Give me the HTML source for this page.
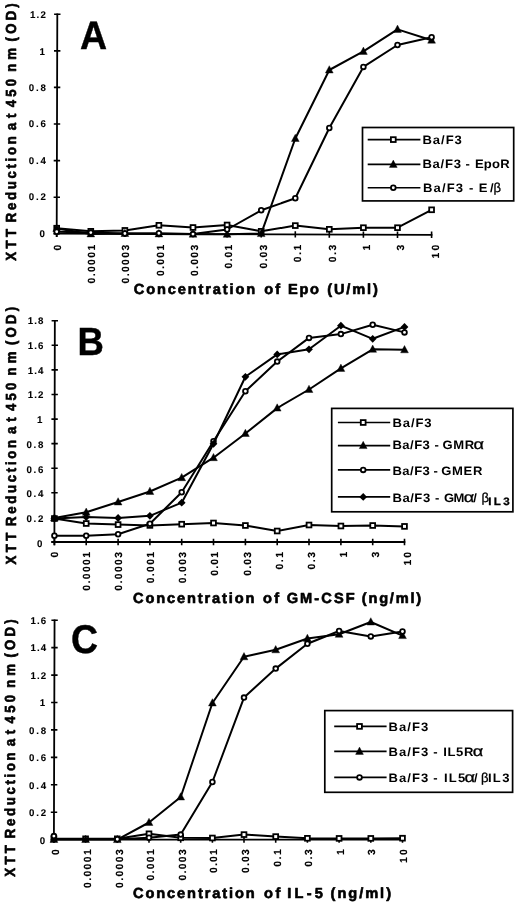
<!DOCTYPE html>
<html lang="en">
<head>
<meta charset="utf-8">
<title>XTT reduction dose response curves</title>
<style>
html,body{margin:0;padding:0;background:#fff;}
body{width:520px;height:906px;overflow:hidden;}
svg{display:block;}
text{font-family:"Liberation Sans", sans-serif;font-weight:bold;fill:#000;text-rendering:geometricPrecision;}
.t{font-size:9.7px;stroke:#000;stroke-width:0.1px;}
.tx{font-size:10.3px;stroke:#000;stroke-width:0.15px;}
.ti{font-size:14.6px;stroke:#000;stroke-width:0.65px;stroke-linejoin:round;}
.lg{font-size:12.2px;}
.gk{font-size:14.5px;font-weight:normal;stroke:#000;stroke-width:0.3px;}
.gb{font-size:13px;font-weight:normal;stroke:#000;stroke-width:0.3px;}
.sub{font-size:10.8px;stroke:#000;stroke-width:0.3px;}
.L{font-size:37.5px;stroke:#000;stroke-width:0.4px;}
</style>
</head>
<body>
<svg width="520" height="906" viewBox="0 0 520 906">
<defs><filter id="soft" x="0" y="0" width="520" height="906" filterUnits="userSpaceOnUse"><feGaussianBlur stdDeviation="0.38"/></filter></defs>
<rect width="520" height="906" fill="#fff"/>
<g filter="url(#soft)">
<g>
<path d="M57.31 13.6 L56.69 236.9 M53.7 233.7 L432.4 234.8" stroke="#000" stroke-width="1.8" fill="none"/>
<path d="M54.1 14.3 H60.5 M54.0 50.9 H60.4 M53.9 87.4 H60.3 M53.8 124.0 H60.2 M53.7 160.6 H60.1 M53.6 197.2 H60.0 M53.5 233.7 H59.9 M56.7 230.5 V236.9 M90.8 230.6 V237.0 M124.9 230.7 V237.1 M158.9 230.8 V237.2 M193.0 230.9 V237.3 M227.1 231.0 V237.4 M261.2 231.1 V237.5 M295.3 231.2 V237.6 M329.3 231.3 V237.7 M363.4 231.4 V237.8 M397.5 231.5 V237.9 M431.6 231.6 V238.0 " stroke="#000" stroke-width="1.6" fill="none"/>
<text x="30.0" y="18.2" textLength="15.8" lengthAdjust="spacing" class="t">1.2</text>
<text x="39.4" y="54.6" class="t">1</text>
<text x="28.7" y="91.0" textLength="17.1" lengthAdjust="spacing" class="t">0.8</text>
<text x="28.7" y="127.4" textLength="17.1" lengthAdjust="spacing" class="t">0.6</text>
<text x="28.7" y="163.8" textLength="17.1" lengthAdjust="spacing" class="t">0.4</text>
<text x="28.7" y="200.2" textLength="17.1" lengthAdjust="spacing" class="t">0.2</text>
<text x="39.4" y="236.6" class="t">0</text>
<text transform="translate(60.5 250.4) rotate(-90)" class="tx">0</text>
<text transform="translate(94.9 283.5) rotate(-90)" textLength="38.7" lengthAdjust="spacing" class="tx">0.0001</text>
<text transform="translate(129.3 283.5) rotate(-90)" textLength="38.7" lengthAdjust="spacing" class="tx">0.0003</text>
<text transform="translate(163.6 276.1) rotate(-90)" textLength="31.3" lengthAdjust="spacing" class="tx">0.001</text>
<text transform="translate(198.0 276.1) rotate(-90)" textLength="31.3" lengthAdjust="spacing" class="tx">0.003</text>
<text transform="translate(232.4 268.5) rotate(-90)" textLength="23.7" lengthAdjust="spacing" class="tx">0.01</text>
<text transform="translate(266.8 268.5) rotate(-90)" textLength="23.7" lengthAdjust="spacing" class="tx">0.03</text>
<text transform="translate(301.2 262.3) rotate(-90)" textLength="17.5" lengthAdjust="spacing" class="tx">0.1</text>
<text transform="translate(335.5 262.3) rotate(-90)" textLength="17.5" lengthAdjust="spacing" class="tx">0.3</text>
<text transform="translate(369.9 250.4) rotate(-90)" class="tx">1</text>
<text transform="translate(404.3 250.4) rotate(-90)" class="tx">3</text>
<text transform="translate(438.7 258.4) rotate(-90)" textLength="13.6" lengthAdjust="spacing" class="tx">10</text>
<text transform="translate(15.9 260.7) rotate(-90) scale(0.9 1)" textLength="35.2" lengthAdjust="spacing" class="ti">XTT</text>
<text transform="translate(15.9 222.2) rotate(-90) scale(0.9 1)" textLength="95.5" lengthAdjust="spacing" class="ti">Reduction</text>
<text transform="translate(15.9 130.2) rotate(-90) scale(0.9 1)" textLength="18.3" lengthAdjust="spacing" class="ti">at</text>
<text transform="translate(15.9 107.3) rotate(-90) scale(0.9 1)" textLength="31.6" lengthAdjust="spacing" class="ti">450</text>
<text transform="translate(15.9 71.7) rotate(-90) scale(0.9 1)" textLength="26.4" lengthAdjust="spacing" class="ti">nm</text>
<text transform="translate(15.9 41.4) rotate(-90) scale(0.9 1)" textLength="42.4" lengthAdjust="spacing" class="ti">(OD)</text>
<text x="133.8" y="293.5" textLength="121.3" lengthAdjust="spacing" class="ti">Concentration</text>
<text x="264.3" y="293.5" textLength="15.8" lengthAdjust="spacing" class="ti">of</text>
<text x="288.1" y="293.5" textLength="30.8" lengthAdjust="spacing" class="ti">Epo</text>
<text x="327.3" y="293.5" textLength="50.5" lengthAdjust="spacing" class="ti">(U/ml)</text>
<text transform="translate(80.0 48.7) scale(1 1.055)" class="L">A</text>
<polyline points="56.7,228.2 90.8,231.3 124.9,230.4 158.9,225.3 193.0,227.5 227.1,225.0 261.2,231.3 295.3,225.6 329.3,229.3 363.4,227.7 397.5,227.7 431.6,209.8" fill="none" stroke="#000" stroke-width="2.0" stroke-linejoin="round"/>
<rect x="54.3" y="225.8" width="4.8" height="4.8" fill="#fff" stroke="#000" stroke-width="1.8"/>
<rect x="88.4" y="228.9" width="4.8" height="4.8" fill="#fff" stroke="#000" stroke-width="1.8"/>
<rect x="122.5" y="228.0" width="4.8" height="4.8" fill="#fff" stroke="#000" stroke-width="1.8"/>
<rect x="156.5" y="222.9" width="4.8" height="4.8" fill="#fff" stroke="#000" stroke-width="1.8"/>
<rect x="190.6" y="225.1" width="4.8" height="4.8" fill="#fff" stroke="#000" stroke-width="1.8"/>
<rect x="224.7" y="222.6" width="4.8" height="4.8" fill="#fff" stroke="#000" stroke-width="1.8"/>
<rect x="258.8" y="228.9" width="4.8" height="4.8" fill="#fff" stroke="#000" stroke-width="1.8"/>
<rect x="292.9" y="223.2" width="4.8" height="4.8" fill="#fff" stroke="#000" stroke-width="1.8"/>
<rect x="326.9" y="226.9" width="4.8" height="4.8" fill="#fff" stroke="#000" stroke-width="1.8"/>
<rect x="361.0" y="225.3" width="4.8" height="4.8" fill="#fff" stroke="#000" stroke-width="1.8"/>
<rect x="395.1" y="225.3" width="4.8" height="4.8" fill="#fff" stroke="#000" stroke-width="1.8"/>
<rect x="429.2" y="207.4" width="4.8" height="4.8" fill="#fff" stroke="#000" stroke-width="1.8"/>
<polyline points="56.7,228.5 90.8,233.9 124.9,233.5 158.9,233.9 193.0,234.2 227.1,234.3 261.2,233.6 295.3,138.5 329.3,70.0 363.4,51.4 397.5,29.4 431.6,40.2" fill="none" stroke="#000" stroke-width="2.0" stroke-linejoin="round"/>
<path d="M56.7 224.2 L60.6 231.5 L52.8 231.5 Z" fill="#000" stroke="#000" stroke-width="0.4" stroke-linejoin="round"/>
<path d="M90.8 229.6 L94.7 236.9 L86.9 236.9 Z" fill="#000" stroke="#000" stroke-width="0.4" stroke-linejoin="round"/>
<path d="M124.9 229.2 L128.8 236.5 L121.0 236.5 Z" fill="#000" stroke="#000" stroke-width="0.4" stroke-linejoin="round"/>
<path d="M158.9 229.6 L162.8 236.9 L155.0 236.9 Z" fill="#000" stroke="#000" stroke-width="0.4" stroke-linejoin="round"/>
<path d="M193.0 229.9 L196.9 237.2 L189.1 237.2 Z" fill="#000" stroke="#000" stroke-width="0.4" stroke-linejoin="round"/>
<path d="M227.1 230.0 L231.0 237.3 L223.2 237.3 Z" fill="#000" stroke="#000" stroke-width="0.4" stroke-linejoin="round"/>
<path d="M261.2 229.3 L265.1 236.6 L257.3 236.6 Z" fill="#000" stroke="#000" stroke-width="0.4" stroke-linejoin="round"/>
<path d="M295.3 134.2 L299.2 141.5 L291.4 141.5 Z" fill="#000" stroke="#000" stroke-width="0.4" stroke-linejoin="round"/>
<path d="M329.3 65.7 L333.2 73.0 L325.4 73.0 Z" fill="#000" stroke="#000" stroke-width="0.4" stroke-linejoin="round"/>
<path d="M363.4 47.1 L367.3 54.4 L359.5 54.4 Z" fill="#000" stroke="#000" stroke-width="0.4" stroke-linejoin="round"/>
<path d="M397.5 25.1 L401.4 32.4 L393.6 32.4 Z" fill="#000" stroke="#000" stroke-width="0.4" stroke-linejoin="round"/>
<path d="M431.6 35.9 L435.5 43.2 L427.7 43.2 Z" fill="#000" stroke="#000" stroke-width="0.4" stroke-linejoin="round"/>
<polyline points="56.7,231.7 90.8,232.6 124.9,233.5 158.9,233.2 193.0,234.1 227.1,229.5 261.2,210.3 295.3,198.3 329.3,128.0 363.4,66.9 397.5,45.0 431.6,37.3" fill="none" stroke="#000" stroke-width="2.0" stroke-linejoin="round"/>
<circle cx="56.7" cy="231.7" r="2.35" fill="#fff" stroke="#000" stroke-width="1.8"/>
<circle cx="90.8" cy="232.6" r="2.35" fill="#fff" stroke="#000" stroke-width="1.8"/>
<circle cx="124.9" cy="233.5" r="2.35" fill="#fff" stroke="#000" stroke-width="1.8"/>
<circle cx="158.9" cy="233.2" r="2.35" fill="#fff" stroke="#000" stroke-width="1.8"/>
<circle cx="193.0" cy="234.1" r="2.35" fill="#fff" stroke="#000" stroke-width="1.8"/>
<circle cx="227.1" cy="229.5" r="2.35" fill="#fff" stroke="#000" stroke-width="1.8"/>
<circle cx="261.2" cy="210.3" r="2.35" fill="#fff" stroke="#000" stroke-width="1.8"/>
<circle cx="295.3" cy="198.3" r="2.35" fill="#fff" stroke="#000" stroke-width="1.8"/>
<circle cx="329.3" cy="128.0" r="2.35" fill="#fff" stroke="#000" stroke-width="1.8"/>
<circle cx="363.4" cy="66.9" r="2.35" fill="#fff" stroke="#000" stroke-width="1.8"/>
<circle cx="397.5" cy="45.0" r="2.35" fill="#fff" stroke="#000" stroke-width="1.8"/>
<circle cx="431.6" cy="37.3" r="2.35" fill="#fff" stroke="#000" stroke-width="1.8"/>
<rect x="362.5" y="127.5" width="151.2" height="73.4" fill="#fff" stroke="#000" stroke-width="1.7"/>
<path d="M367.7 139.6 H420.4" stroke="#000" stroke-width="1.6"/>
<rect x="390.9" y="137.2" width="4.8" height="4.8" fill="#fff" stroke="#000" stroke-width="1.8"/>
<text transform="translate(422.4 143.8) scale(1.07 1)" textLength="36.9" lengthAdjust="spacing" class="lg">Ba/F3</text>
<path d="M367.7 164.4 H420.4" stroke="#000" stroke-width="1.6"/>
<path d="M393.3 160.1 L397.2 167.4 L389.4 167.4 Z" fill="#000" stroke="#000" stroke-width="0.4" stroke-linejoin="round"/>
<text transform="translate(422.4 168.4) scale(1.07 1)" textLength="36.1" lengthAdjust="spacing" class="lg">Ba/F3</text>
<text transform="translate(465.4 168.4) scale(1.07 1)" class="lg">-</text>
<text transform="translate(474.9 168.4) scale(1.07 1)" textLength="32.6" lengthAdjust="spacing" class="lg">EpoR</text>
<path d="M367.7 187.7 H420.4" stroke="#000" stroke-width="1.6"/>
<circle cx="393.3" cy="187.7" r="2.35" fill="#fff" stroke="#000" stroke-width="1.8"/>
<text transform="translate(423.0 191.6) scale(1.07 1)" textLength="37.5" lengthAdjust="spacing" class="lg">Ba/F3</text>
<text transform="translate(468.9 191.6) scale(1.07 1)" class="lg">-</text>
<text transform="translate(478.7 191.6) scale(1.07 1)" textLength="13.9" lengthAdjust="spacing" class="lg">E/</text>
<text x="493.4" y="191.6" class="gb">β</text>
</g>
<g>
<path d="M54.84 320.1 L54.39 545.2 M51.4 542.0 L405.3 542.0" stroke="#000" stroke-width="1.8" fill="none"/>
<path d="M51.6 320.8 H58.0 M51.6 345.3 H58.0 M51.5 369.9 H57.9 M51.5 394.5 H57.9 M51.4 419.1 H57.8 M51.4 443.6 H57.8 M51.3 468.2 H57.7 M51.3 492.8 H57.7 M51.2 517.4 H57.6 M51.2 542.0 H57.6 M54.4 538.8 V545.2 M86.2 538.8 V545.2 M118.1 538.8 V545.2 M149.9 538.8 V545.2 M181.7 538.8 V545.2 M213.5 538.8 V545.2 M245.4 538.8 V545.2 M277.2 538.8 V545.2 M309.0 538.8 V545.2 M340.9 538.8 V545.2 M372.7 538.8 V545.2 M404.5 538.8 V545.2 " stroke="#000" stroke-width="1.6" fill="none"/>
<text x="27.7" y="324.2" textLength="15.8" lengthAdjust="spacing" class="t">1.8</text>
<text x="27.7" y="348.9" textLength="15.8" lengthAdjust="spacing" class="t">1.6</text>
<text x="27.7" y="373.6" textLength="15.8" lengthAdjust="spacing" class="t">1.4</text>
<text x="27.7" y="398.4" textLength="15.8" lengthAdjust="spacing" class="t">1.2</text>
<text x="37.1" y="423.1" class="t">1</text>
<text x="26.4" y="447.8" textLength="17.1" lengthAdjust="spacing" class="t">0.8</text>
<text x="26.4" y="472.5" textLength="17.1" lengthAdjust="spacing" class="t">0.6</text>
<text x="26.4" y="497.2" textLength="17.1" lengthAdjust="spacing" class="t">0.4</text>
<text x="26.4" y="522.0" textLength="17.1" lengthAdjust="spacing" class="t">0.2</text>
<text x="37.1" y="546.7" class="t">0</text>
<text transform="translate(58.0 557.6) rotate(-90)" class="tx">0</text>
<text transform="translate(90.1 590.7) rotate(-90)" textLength="38.7" lengthAdjust="spacing" class="tx">0.0001</text>
<text transform="translate(122.2 590.7) rotate(-90)" textLength="38.7" lengthAdjust="spacing" class="tx">0.0003</text>
<text transform="translate(154.2 583.3) rotate(-90)" textLength="31.3" lengthAdjust="spacing" class="tx">0.001</text>
<text transform="translate(186.3 583.3) rotate(-90)" textLength="31.3" lengthAdjust="spacing" class="tx">0.003</text>
<text transform="translate(218.4 575.7) rotate(-90)" textLength="23.7" lengthAdjust="spacing" class="tx">0.01</text>
<text transform="translate(250.5 575.7) rotate(-90)" textLength="23.7" lengthAdjust="spacing" class="tx">0.03</text>
<text transform="translate(282.6 569.5) rotate(-90)" textLength="17.5" lengthAdjust="spacing" class="tx">0.1</text>
<text transform="translate(314.6 569.5) rotate(-90)" textLength="17.5" lengthAdjust="spacing" class="tx">0.3</text>
<text transform="translate(346.7 557.6) rotate(-90)" class="tx">1</text>
<text transform="translate(378.8 557.6) rotate(-90)" class="tx">3</text>
<text transform="translate(410.9 565.6) rotate(-90)" textLength="13.6" lengthAdjust="spacing" class="tx">10</text>
<text transform="translate(15.7 564.4) rotate(-90) scale(0.9 1)" textLength="35.2" lengthAdjust="spacing" class="ti">XTT</text>
<text transform="translate(15.7 525.9) rotate(-90) scale(0.9 1)" textLength="95.5" lengthAdjust="spacing" class="ti">Reduction</text>
<text transform="translate(15.7 433.9) rotate(-90) scale(0.9 1)" textLength="18.3" lengthAdjust="spacing" class="ti">at</text>
<text transform="translate(15.7 411.0) rotate(-90) scale(0.9 1)" textLength="31.6" lengthAdjust="spacing" class="ti">450</text>
<text transform="translate(15.7 375.4) rotate(-90) scale(0.9 1)" textLength="26.4" lengthAdjust="spacing" class="ti">nm</text>
<text transform="translate(15.7 345.1) rotate(-90) scale(0.9 1)" textLength="42.4" lengthAdjust="spacing" class="ti">(OD)</text>
<text x="133.1" y="602.9" textLength="121.3" lengthAdjust="spacing" class="ti">Concentration</text>
<text x="263.1" y="602.9" textLength="16.1" lengthAdjust="spacing" class="ti">of</text>
<text x="286.7" y="602.9" textLength="67.9" lengthAdjust="spacing" class="ti">GM-CSF</text>
<text x="361.8" y="602.9" textLength="59.3" lengthAdjust="spacing" class="ti">(ng/ml)</text>
<text transform="translate(77.4 355.1) scale(0.975 1.05)" class="L">B</text>
<polyline points="54.4,518.5 86.2,523.5 118.1,524.6 149.9,525.4 181.7,524.2 213.5,523.0 245.4,525.5 277.2,531.0 309.0,525.0 340.9,526.0 372.7,525.5 404.5,526.4" fill="none" stroke="#000" stroke-width="2.0" stroke-linejoin="round"/>
<rect x="52.0" y="516.1" width="4.8" height="4.8" fill="#fff" stroke="#000" stroke-width="1.8"/>
<rect x="83.8" y="521.1" width="4.8" height="4.8" fill="#fff" stroke="#000" stroke-width="1.8"/>
<rect x="115.7" y="522.2" width="4.8" height="4.8" fill="#fff" stroke="#000" stroke-width="1.8"/>
<rect x="147.5" y="523.0" width="4.8" height="4.8" fill="#fff" stroke="#000" stroke-width="1.8"/>
<rect x="179.3" y="521.8" width="4.8" height="4.8" fill="#fff" stroke="#000" stroke-width="1.8"/>
<rect x="211.1" y="520.6" width="4.8" height="4.8" fill="#fff" stroke="#000" stroke-width="1.8"/>
<rect x="243.0" y="523.1" width="4.8" height="4.8" fill="#fff" stroke="#000" stroke-width="1.8"/>
<rect x="274.8" y="528.6" width="4.8" height="4.8" fill="#fff" stroke="#000" stroke-width="1.8"/>
<rect x="306.6" y="522.6" width="4.8" height="4.8" fill="#fff" stroke="#000" stroke-width="1.8"/>
<rect x="338.5" y="523.6" width="4.8" height="4.8" fill="#fff" stroke="#000" stroke-width="1.8"/>
<rect x="370.3" y="523.1" width="4.8" height="4.8" fill="#fff" stroke="#000" stroke-width="1.8"/>
<rect x="402.1" y="524.0" width="4.8" height="4.8" fill="#fff" stroke="#000" stroke-width="1.8"/>
<polyline points="54.4,518.0 86.2,512.3 118.1,502.0 149.9,491.5 181.7,477.7 213.5,457.7 245.4,433.5 277.2,408.1 309.0,389.5 340.9,368.4 372.7,349.3 404.5,349.8" fill="none" stroke="#000" stroke-width="2.0" stroke-linejoin="round"/>
<path d="M54.4 513.7 L58.3 521.0 L50.5 521.0 Z" fill="#000" stroke="#000" stroke-width="0.4" stroke-linejoin="round"/>
<path d="M86.2 508.0 L90.1 515.3 L82.3 515.3 Z" fill="#000" stroke="#000" stroke-width="0.4" stroke-linejoin="round"/>
<path d="M118.1 497.7 L122.0 505.0 L114.2 505.0 Z" fill="#000" stroke="#000" stroke-width="0.4" stroke-linejoin="round"/>
<path d="M149.9 487.2 L153.8 494.5 L146.0 494.5 Z" fill="#000" stroke="#000" stroke-width="0.4" stroke-linejoin="round"/>
<path d="M181.7 473.4 L185.6 480.7 L177.8 480.7 Z" fill="#000" stroke="#000" stroke-width="0.4" stroke-linejoin="round"/>
<path d="M213.5 453.4 L217.4 460.7 L209.6 460.7 Z" fill="#000" stroke="#000" stroke-width="0.4" stroke-linejoin="round"/>
<path d="M245.4 429.2 L249.3 436.5 L241.5 436.5 Z" fill="#000" stroke="#000" stroke-width="0.4" stroke-linejoin="round"/>
<path d="M277.2 403.8 L281.1 411.1 L273.3 411.1 Z" fill="#000" stroke="#000" stroke-width="0.4" stroke-linejoin="round"/>
<path d="M309.0 385.2 L312.9 392.5 L305.1 392.5 Z" fill="#000" stroke="#000" stroke-width="0.4" stroke-linejoin="round"/>
<path d="M340.9 364.1 L344.8 371.4 L337.0 371.4 Z" fill="#000" stroke="#000" stroke-width="0.4" stroke-linejoin="round"/>
<path d="M372.7 345.0 L376.6 352.3 L368.8 352.3 Z" fill="#000" stroke="#000" stroke-width="0.4" stroke-linejoin="round"/>
<path d="M404.5 345.5 L408.4 352.8 L400.6 352.8 Z" fill="#000" stroke="#000" stroke-width="0.4" stroke-linejoin="round"/>
<polyline points="54.4,535.8 86.2,535.8 118.1,534.2 149.9,523.8 181.7,492.3 213.5,441.2 245.4,391.2 277.2,361.6 309.0,337.9 340.9,334.1 372.7,324.8 404.5,332.4" fill="none" stroke="#000" stroke-width="2.0" stroke-linejoin="round"/>
<circle cx="54.4" cy="535.8" r="2.35" fill="#fff" stroke="#000" stroke-width="1.8"/>
<circle cx="86.2" cy="535.8" r="2.35" fill="#fff" stroke="#000" stroke-width="1.8"/>
<circle cx="118.1" cy="534.2" r="2.35" fill="#fff" stroke="#000" stroke-width="1.8"/>
<circle cx="149.9" cy="523.8" r="2.35" fill="#fff" stroke="#000" stroke-width="1.8"/>
<circle cx="181.7" cy="492.3" r="2.35" fill="#fff" stroke="#000" stroke-width="1.8"/>
<circle cx="213.5" cy="441.2" r="2.35" fill="#fff" stroke="#000" stroke-width="1.8"/>
<circle cx="245.4" cy="391.2" r="2.35" fill="#fff" stroke="#000" stroke-width="1.8"/>
<circle cx="277.2" cy="361.6" r="2.35" fill="#fff" stroke="#000" stroke-width="1.8"/>
<circle cx="309.0" cy="337.9" r="2.35" fill="#fff" stroke="#000" stroke-width="1.8"/>
<circle cx="340.9" cy="334.1" r="2.35" fill="#fff" stroke="#000" stroke-width="1.8"/>
<circle cx="372.7" cy="324.8" r="2.35" fill="#fff" stroke="#000" stroke-width="1.8"/>
<circle cx="404.5" cy="332.4" r="2.35" fill="#fff" stroke="#000" stroke-width="1.8"/>
<polyline points="54.4,518.5 86.2,517.0 118.1,518.0 149.9,515.8 181.7,502.7 213.5,443.8 245.4,376.8 277.2,354.4 309.0,349.3 340.9,325.7 372.7,338.8 404.5,326.9" fill="none" stroke="#000" stroke-width="2.0" stroke-linejoin="round"/>
<path d="M54.4 514.6 L58.3 518.5 L54.4 522.4 L50.5 518.5 Z" fill="#000"/>
<path d="M86.2 513.1 L90.1 517.0 L86.2 520.9 L82.3 517.0 Z" fill="#000"/>
<path d="M118.1 514.1 L122.0 518.0 L118.1 521.9 L114.2 518.0 Z" fill="#000"/>
<path d="M149.9 511.9 L153.8 515.8 L149.9 519.7 L146.0 515.8 Z" fill="#000"/>
<path d="M181.7 498.8 L185.6 502.7 L181.7 506.6 L177.8 502.7 Z" fill="#000"/>
<path d="M213.5 439.9 L217.4 443.8 L213.5 447.7 L209.6 443.8 Z" fill="#000"/>
<path d="M245.4 372.9 L249.3 376.8 L245.4 380.7 L241.5 376.8 Z" fill="#000"/>
<path d="M277.2 350.5 L281.1 354.4 L277.2 358.3 L273.3 354.4 Z" fill="#000"/>
<path d="M309.0 345.4 L312.9 349.3 L309.0 353.2 L305.1 349.3 Z" fill="#000"/>
<path d="M340.9 321.8 L344.8 325.7 L340.9 329.6 L337.0 325.7 Z" fill="#000"/>
<path d="M372.7 334.9 L376.6 338.8 L372.7 342.7 L368.8 338.8 Z" fill="#000"/>
<path d="M404.5 323.0 L408.4 326.9 L404.5 330.8 L400.6 326.9 Z" fill="#000"/>
<rect x="331.7" y="408.4" width="181.2" height="103.4" fill="#fff" stroke="#000" stroke-width="1.7"/>
<path d="M337.9 422.5 H390.2" stroke="#000" stroke-width="1.6"/>
<rect x="360.8" y="420.1" width="4.8" height="4.8" fill="#fff" stroke="#000" stroke-width="1.8"/>
<text transform="translate(392.4 426.6) scale(1.07 1)" textLength="36.6" lengthAdjust="spacing" class="lg">Ba/F3</text>
<path d="M337.9 445.6 H390.2" stroke="#000" stroke-width="1.6"/>
<path d="M363.2 441.3 L367.1 448.6 L359.3 448.6 Z" fill="#000" stroke="#000" stroke-width="0.4" stroke-linejoin="round"/>
<text transform="translate(392.4 449.4) scale(1.07 1)" textLength="35.0" lengthAdjust="spacing" class="lg">Ba/F3</text>
<text transform="translate(434.5 449.4) scale(1.07 1)" class="lg">-</text>
<text transform="translate(442.5 449.4) scale(1.07 1)" textLength="29.6" lengthAdjust="spacing" class="lg">GMR</text>
<text transform="translate(473.6 449.4) scale(1.25 1)" class="gk">α</text>
<path d="M337.9 469.9 H390.2" stroke="#000" stroke-width="1.6"/>
<circle cx="363.2" cy="469.9" r="2.35" fill="#fff" stroke="#000" stroke-width="1.8"/>
<text transform="translate(392.4 475.0) scale(1.07 1)" textLength="35.0" lengthAdjust="spacing" class="lg">Ba/F3</text>
<text transform="translate(433.5 475.0) scale(1.07 1)" class="lg">-</text>
<text transform="translate(441.3 475.0) scale(1.07 1)" textLength="38.4" lengthAdjust="spacing" class="lg">GMER</text>
<path d="M337.9 496.9 H390.2" stroke="#000" stroke-width="1.6"/>
<path d="M363.2 493.0 L367.1 496.9 L363.2 500.8 L359.3 496.9 Z" fill="#000"/>
<text transform="translate(392.4 501.5) scale(1.07 1)" textLength="35.3" lengthAdjust="spacing" class="lg">Ba/F3</text>
<text transform="translate(434.9 501.5) scale(1.07 1)" class="lg">-</text>
<text transform="translate(443.9 501.5) scale(1.07 1)" textLength="19.2" lengthAdjust="spacing" class="lg">GM</text>
<text transform="translate(463.8 501.5) scale(1.25 1)" class="gk">α</text>
<text transform="translate(473.3 501.5) scale(1.07 1)" class="lg">/</text>
<text x="481.5" y="501.5" class="gb">β</text>
<text transform="translate(488.3 505.1) scale(1.07 1)" textLength="20.0" lengthAdjust="spacing" class="sub">IL3</text>
</g>
<g>
<path d="M54.56 619.5 L53.89 842.8 M50.9 839.6 L403.3 839.6" stroke="#000" stroke-width="1.8" fill="none"/>
<path d="M51.4 620.2 H57.8 M51.3 647.6 H57.7 M51.2 675.1 H57.6 M51.1 702.5 H57.5 M51.0 729.9 H57.4 M50.9 757.4 H57.3 M50.9 784.8 H57.3 M50.8 812.2 H57.2 M50.7 839.6 H57.1 M53.9 836.4 V842.8 M85.6 836.4 V842.8 M117.3 836.4 V842.8 M149.0 836.4 V842.8 M180.7 836.4 V842.8 M212.4 836.4 V842.8 M244.0 836.4 V842.8 M275.7 836.4 V842.8 M307.4 836.4 V842.8 M339.1 836.4 V842.8 M370.8 836.4 V842.8 M402.5 836.4 V842.8 " stroke="#000" stroke-width="1.6" fill="none"/>
<text x="30.4" y="623.9" textLength="15.8" lengthAdjust="spacing" class="t">1.6</text>
<text x="30.4" y="651.4" textLength="15.8" lengthAdjust="spacing" class="t">1.4</text>
<text x="30.4" y="678.8" textLength="15.8" lengthAdjust="spacing" class="t">1.2</text>
<text x="39.8" y="706.2" class="t">1</text>
<text x="29.1" y="733.7" textLength="17.1" lengthAdjust="spacing" class="t">0.8</text>
<text x="29.1" y="761.1" textLength="17.1" lengthAdjust="spacing" class="t">0.6</text>
<text x="29.1" y="788.6" textLength="17.1" lengthAdjust="spacing" class="t">0.4</text>
<text x="29.1" y="816.0" textLength="17.1" lengthAdjust="spacing" class="t">0.2</text>
<text x="39.8" y="843.5" class="t">0</text>
<text transform="translate(59.4 854.9) rotate(-90)" class="tx">0</text>
<text transform="translate(91.0 888.0) rotate(-90)" textLength="38.7" lengthAdjust="spacing" class="tx">0.0001</text>
<text transform="translate(122.6 888.0) rotate(-90)" textLength="38.7" lengthAdjust="spacing" class="tx">0.0003</text>
<text transform="translate(154.1 880.6) rotate(-90)" textLength="31.3" lengthAdjust="spacing" class="tx">0.001</text>
<text transform="translate(185.7 880.6) rotate(-90)" textLength="31.3" lengthAdjust="spacing" class="tx">0.003</text>
<text transform="translate(217.3 873.0) rotate(-90)" textLength="23.7" lengthAdjust="spacing" class="tx">0.01</text>
<text transform="translate(248.9 873.0) rotate(-90)" textLength="23.7" lengthAdjust="spacing" class="tx">0.03</text>
<text transform="translate(280.5 866.8) rotate(-90)" textLength="17.5" lengthAdjust="spacing" class="tx">0.1</text>
<text transform="translate(312.0 866.8) rotate(-90)" textLength="17.5" lengthAdjust="spacing" class="tx">0.3</text>
<text transform="translate(343.6 854.9) rotate(-90)" class="tx">1</text>
<text transform="translate(375.2 854.9) rotate(-90)" class="tx">3</text>
<text transform="translate(406.8 862.9) rotate(-90)" textLength="13.6" lengthAdjust="spacing" class="tx">10</text>
<text transform="translate(15.4 876.8) rotate(-90) scale(0.9 1)" textLength="35.2" lengthAdjust="spacing" class="ti">XTT</text>
<text transform="translate(15.4 838.3) rotate(-90) scale(0.9 1)" textLength="95.5" lengthAdjust="spacing" class="ti">Reduction</text>
<text transform="translate(15.4 746.3) rotate(-90) scale(0.9 1)" textLength="18.3" lengthAdjust="spacing" class="ti">at</text>
<text transform="translate(15.4 723.4) rotate(-90) scale(0.9 1)" textLength="31.6" lengthAdjust="spacing" class="ti">450</text>
<text transform="translate(15.4 687.8) rotate(-90) scale(0.9 1)" textLength="26.4" lengthAdjust="spacing" class="ti">nm</text>
<text transform="translate(15.4 657.5) rotate(-90) scale(0.9 1)" textLength="42.4" lengthAdjust="spacing" class="ti">(OD)</text>
<text x="133.0" y="897.7" textLength="121.7" lengthAdjust="spacing" class="ti">Concentration</text>
<text x="264.1" y="897.7" textLength="16.3" lengthAdjust="spacing" class="ti">of</text>
<text x="287.3" y="897.7" textLength="35.5" lengthAdjust="spacing" class="ti">IL-5</text>
<text x="330.6" y="897.7" textLength="60.4" lengthAdjust="spacing" class="ti">(ng/ml)</text>
<text transform="translate(70.9 653.0) scale(1 1.07)" class="L">C</text>
<polyline points="53.9,838.8 85.6,838.8 117.3,838.8 149.0,833.8 180.7,837.8 212.4,838.0 244.0,834.6 275.7,836.6 307.4,838.3 339.1,838.4 370.8,838.4 402.5,838.2" fill="none" stroke="#000" stroke-width="2.0" stroke-linejoin="round"/>
<rect x="51.5" y="836.4" width="4.8" height="4.8" fill="#fff" stroke="#000" stroke-width="1.8"/>
<rect x="83.2" y="836.4" width="4.8" height="4.8" fill="#fff" stroke="#000" stroke-width="1.8"/>
<rect x="114.9" y="836.4" width="4.8" height="4.8" fill="#fff" stroke="#000" stroke-width="1.8"/>
<rect x="146.6" y="831.4" width="4.8" height="4.8" fill="#fff" stroke="#000" stroke-width="1.8"/>
<rect x="178.3" y="835.4" width="4.8" height="4.8" fill="#fff" stroke="#000" stroke-width="1.8"/>
<rect x="210.0" y="835.6" width="4.8" height="4.8" fill="#fff" stroke="#000" stroke-width="1.8"/>
<rect x="241.6" y="832.2" width="4.8" height="4.8" fill="#fff" stroke="#000" stroke-width="1.8"/>
<rect x="273.3" y="834.2" width="4.8" height="4.8" fill="#fff" stroke="#000" stroke-width="1.8"/>
<rect x="305.0" y="835.9" width="4.8" height="4.8" fill="#fff" stroke="#000" stroke-width="1.8"/>
<rect x="336.7" y="836.0" width="4.8" height="4.8" fill="#fff" stroke="#000" stroke-width="1.8"/>
<rect x="368.4" y="836.0" width="4.8" height="4.8" fill="#fff" stroke="#000" stroke-width="1.8"/>
<rect x="400.1" y="835.8" width="4.8" height="4.8" fill="#fff" stroke="#000" stroke-width="1.8"/>
<polyline points="53.9,839.5 85.6,839.5 117.3,839.6 149.0,822.5 180.7,797.0 212.4,703.0 244.0,656.8 275.7,649.8 307.4,638.5 339.1,634.3 370.8,622.0 402.5,635.6" fill="none" stroke="#000" stroke-width="2.0" stroke-linejoin="round"/>
<path d="M53.9 835.2 L57.8 842.5 L50.0 842.5 Z" fill="#000" stroke="#000" stroke-width="0.4" stroke-linejoin="round"/>
<path d="M85.6 835.2 L89.5 842.5 L81.7 842.5 Z" fill="#000" stroke="#000" stroke-width="0.4" stroke-linejoin="round"/>
<path d="M117.3 835.3 L121.2 842.6 L113.4 842.6 Z" fill="#000" stroke="#000" stroke-width="0.4" stroke-linejoin="round"/>
<path d="M149.0 818.2 L152.9 825.5 L145.1 825.5 Z" fill="#000" stroke="#000" stroke-width="0.4" stroke-linejoin="round"/>
<path d="M180.7 792.7 L184.6 800.0 L176.8 800.0 Z" fill="#000" stroke="#000" stroke-width="0.4" stroke-linejoin="round"/>
<path d="M212.4 698.7 L216.3 706.0 L208.5 706.0 Z" fill="#000" stroke="#000" stroke-width="0.4" stroke-linejoin="round"/>
<path d="M244.0 652.5 L247.9 659.8 L240.1 659.8 Z" fill="#000" stroke="#000" stroke-width="0.4" stroke-linejoin="round"/>
<path d="M275.7 645.5 L279.6 652.8 L271.8 652.8 Z" fill="#000" stroke="#000" stroke-width="0.4" stroke-linejoin="round"/>
<path d="M307.4 634.2 L311.3 641.5 L303.5 641.5 Z" fill="#000" stroke="#000" stroke-width="0.4" stroke-linejoin="round"/>
<path d="M339.1 630.0 L343.0 637.3 L335.2 637.3 Z" fill="#000" stroke="#000" stroke-width="0.4" stroke-linejoin="round"/>
<path d="M370.8 617.7 L374.7 625.0 L366.9 625.0 Z" fill="#000" stroke="#000" stroke-width="0.4" stroke-linejoin="round"/>
<path d="M402.5 631.3 L406.4 638.6 L398.6 638.6 Z" fill="#000" stroke="#000" stroke-width="0.4" stroke-linejoin="round"/>
<polyline points="117.3,839.2 149.0,837.8 180.7,834.6 212.4,782.0 244.0,697.6 275.7,668.6 307.4,643.8 339.1,631.0 370.8,636.4 402.5,631.5" fill="none" stroke="#000" stroke-width="2.0" stroke-linejoin="round"/>
<circle cx="53.9" cy="836.1" r="2.35" fill="#fff" stroke="#000" stroke-width="1.8"/>
<circle cx="117.3" cy="839.2" r="2.35" fill="#fff" stroke="#000" stroke-width="1.8"/>
<circle cx="149.0" cy="837.8" r="2.35" fill="#fff" stroke="#000" stroke-width="1.8"/>
<circle cx="180.7" cy="834.6" r="2.35" fill="#fff" stroke="#000" stroke-width="1.8"/>
<circle cx="212.4" cy="782.0" r="2.35" fill="#fff" stroke="#000" stroke-width="1.8"/>
<circle cx="244.0" cy="697.6" r="2.35" fill="#fff" stroke="#000" stroke-width="1.8"/>
<circle cx="275.7" cy="668.6" r="2.35" fill="#fff" stroke="#000" stroke-width="1.8"/>
<circle cx="307.4" cy="643.8" r="2.35" fill="#fff" stroke="#000" stroke-width="1.8"/>
<circle cx="339.1" cy="631.0" r="2.35" fill="#fff" stroke="#000" stroke-width="1.8"/>
<circle cx="370.8" cy="636.4" r="2.35" fill="#fff" stroke="#000" stroke-width="1.8"/>
<circle cx="402.5" cy="631.5" r="2.35" fill="#fff" stroke="#000" stroke-width="1.8"/>
<rect x="324.8" y="710.6" width="187.8" height="81.7" fill="#fff" stroke="#000" stroke-width="1.7"/>
<path d="M334.2 726.4 H386.6" stroke="#000" stroke-width="1.6"/>
<rect x="357.1" y="724.0" width="4.8" height="4.8" fill="#fff" stroke="#000" stroke-width="1.8"/>
<text transform="translate(388.5 730.8) scale(1.07 1)" textLength="37.1" lengthAdjust="spacing" class="lg">Ba/F3</text>
<path d="M334.2 751.4 H386.6" stroke="#000" stroke-width="1.6"/>
<path d="M359.5 747.1 L363.4 754.4 L355.6 754.4 Z" fill="#000" stroke="#000" stroke-width="0.4" stroke-linejoin="round"/>
<text transform="translate(388.5 756.0) scale(1.07 1)" textLength="37.1" lengthAdjust="spacing" class="lg">Ba/F3</text>
<text transform="translate(433.2 756.0) scale(1.07 1)" class="lg">-</text>
<text transform="translate(443.3 756.0) scale(1.07 1)" textLength="28.1" lengthAdjust="spacing" class="lg">IL5R</text>
<text transform="translate(472.8 756.0) scale(1.25 1)" class="gk">α</text>
<path d="M334.2 777.4 H386.6" stroke="#000" stroke-width="1.6"/>
<circle cx="359.5" cy="777.4" r="2.35" fill="#fff" stroke="#000" stroke-width="1.8"/>
<text transform="translate(388.5 782.0) scale(1.07 1)" textLength="37.1" lengthAdjust="spacing" class="lg">Ba/F3</text>
<text transform="translate(433.2 782.0) scale(1.07 1)" class="lg">-</text>
<text transform="translate(444.0 782.0) scale(1.07 1)" textLength="19.8" lengthAdjust="spacing" class="lg">IL5</text>
<text transform="translate(464.6 782.0) scale(1.25 1)" class="gk">α</text>
<text transform="translate(474.1 782.0) scale(1.07 1)" class="lg">/</text>
<text x="481.0" y="782.0" class="gb">β</text>
<text transform="translate(487.9 782.0) scale(1.07 1)" textLength="20.1" lengthAdjust="spacing" class="lg">IL3</text>
</g>
</g>
</svg>
</body>
</html>
